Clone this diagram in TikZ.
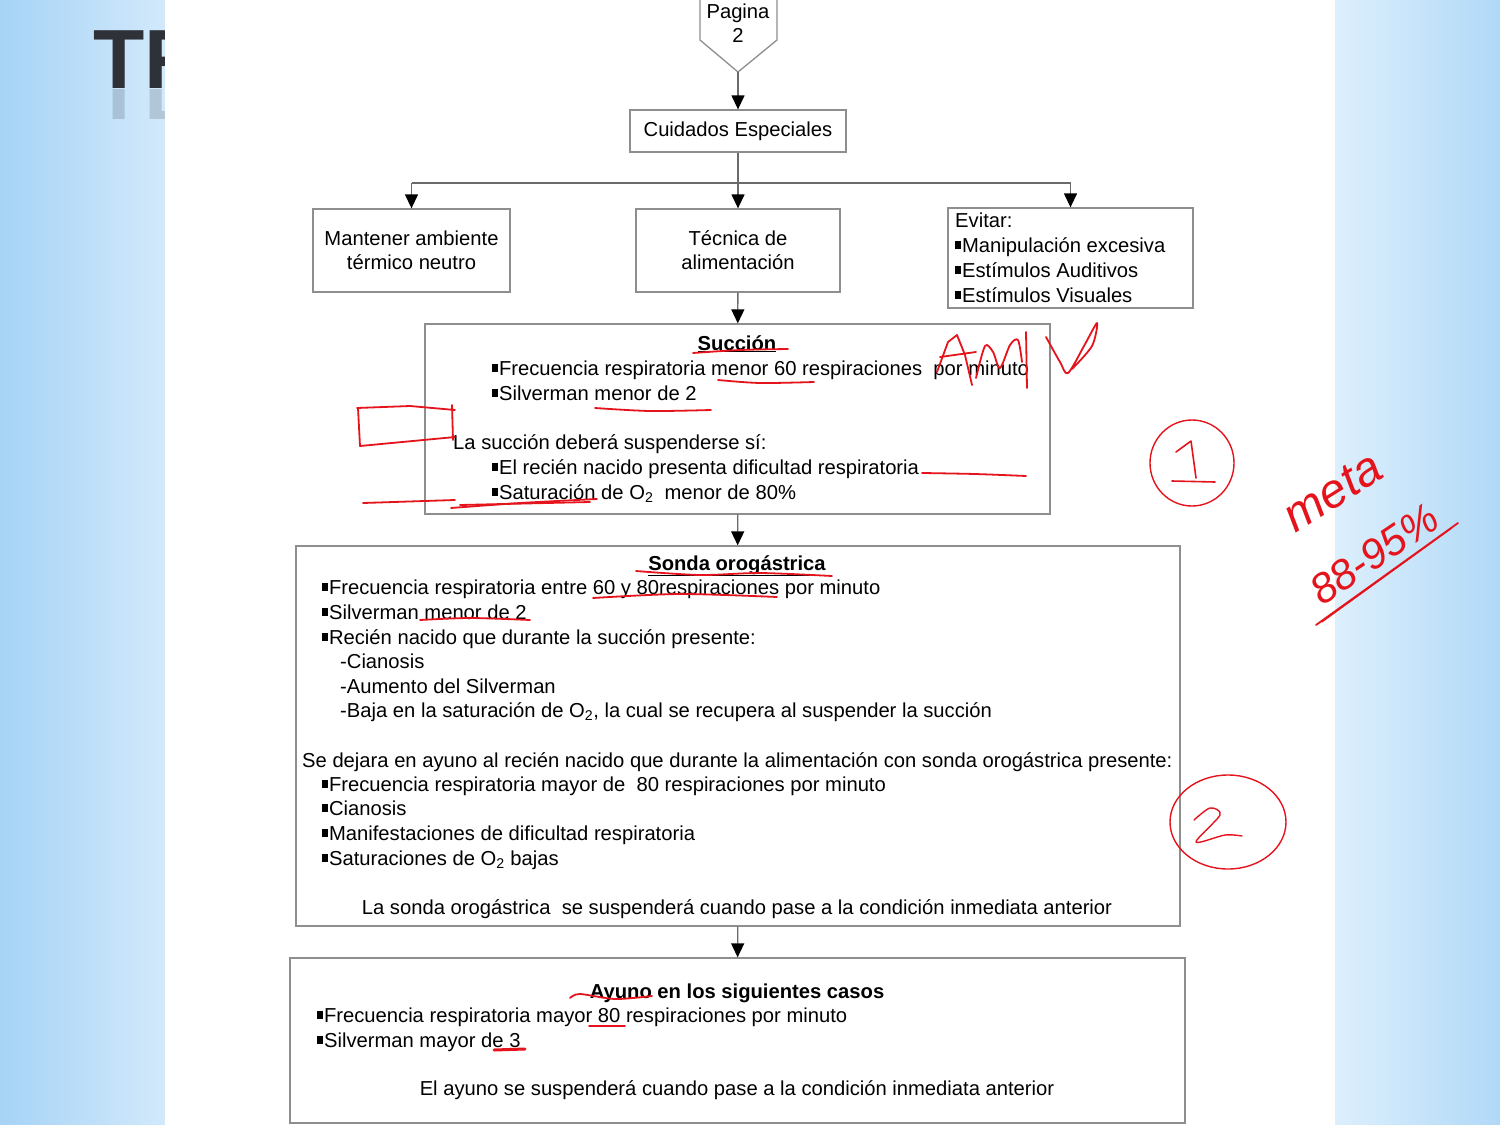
\documentclass[tikz,border=0pt]{standalone}
\usepackage{fontspec}
\setmainfont{Liberation Sans}
\usetikzlibrary{positioning,arrows.meta}

\definecolor{skyA}{HTML}{A6D3F6}
\definecolor{skyB}{HTML}{D2E9FB}
\definecolor{skyC}{HTML}{DDEFFC}
\definecolor{skyD}{HTML}{B0D9F7}
\definecolor{boxgray}{HTML}{8E8E8E}
\definecolor{linegray}{HTML}{6A6A6A}
\definecolor{inkred}{HTML}{E5141C}
\definecolor{titledark}{HTML}{2E3138}

\newcommand{\sq}{\rule[0.17em]{0.28em}{0.36em}\hspace{0.06em}}
\newcommand{\bodyfont}{\fontsize{20.2}{24}\selectfont}

\tikzset{
  box/.style={draw=boxgray, line width=1.3pt, fill=white, inner sep=0pt, font=\bodyfont, align=center},
  txt/.style={anchor=base west, inner sep=0pt, font=\bodyfont},
  ctxt/.style={txt, anchor=base},
  conn/.style={draw=linegray, line width=1.3pt},
  arr/.style={conn, -{Triangle[width=13pt,length=14pt,color=black]}},
  hand/.style={draw=inkred, line width=1.8pt, line cap=round, line join=round},
  title/.style={anchor=base west, inner sep=0pt, text=titledark, font=\fontsize{84}{84}\selectfont\bfseries},
}

\begin{document}
\begin{tikzpicture}[x=1pt, y=-1pt]
  \useasboundingbox (0,0) rectangle (1500,1125);
  % slide background
  \fill[left color=skyA, right color=skyB] (0,0) rectangle (165,1125);
  \fill[left color=skyC, right color=skyD] (1335,0) rectangle (1500,1125);
  \node[title] (ttl) at (93,88) {TR};
  \begin{scope}
    \clip (80,89) rectangle (165,118);
    \node[title, yscale=-1, opacity=0.18] (ttlr) at (93,89) {TR};
  \end{scope}
  \fill[white] (165,0) rectangle (1335,1125);

  % off-page connector
  \draw[conn, draw=boxgray] (700,-5) -- (700,40) -- (738,72) -- (777,40) -- (777,-5);
  \coordinate (pag) at (738,72);
  \node[ctxt] (pag1) at (738,18) {Pagina};
  \node[ctxt] (pag2) at (738,42) {2};

  % boxes
  \node[box, minimum width=216pt, minimum height=42pt] (cuid) at (738,131) {Cuidados Especiales};
  \node[box, minimum width=197pt, minimum height=83pt] (termo) at (411.5,250.5) {Mantener ambiente\\térmico neutro};
  \node[box, minimum width=204pt, minimum height=83pt] (tecn) at (738,250.5) {Técnica de\\alimentación};
  \node[box, minimum width=245pt, minimum height=100pt] (evit) at (1070.5,258) {};
  \node[box, minimum width=625pt, minimum height=190pt] (succ) at (737.5,419) {};
  \node[box, minimum width=884pt, minimum height=380pt] (sonda) at (738,736) {};
  \node[box, minimum width=895pt, minimum height=165pt] (ayuno) at (737.5,1040.5) {};

  % connectors
  \coordinate (br) at (738,183);
  \draw[arr] (pag) -- (cuid);
  \draw[conn] (cuid.south) -- (br);
  \draw[conn] (termo.north |- br) -- (evit.north |- br);
  \foreach \n in {termo, tecn, evit}
    \draw[arr] (\n.north |- br) -- (\n.north);
  \draw[arr] (tecn) -- (succ);
  \draw[arr] (succ) -- (sonda);
  \draw[arr] (sonda) -- (ayuno);

  % Evitar
  \node[txt] (ev0) at (955,227) {Evitar:};
  \node[txt] (ev1) at (955,252) {\sq Manipulación excesiva};
  \node[txt] (ev2) at (955,277) {\sq Estímulos Auditivos};
  \node[txt] (ev3) at (955,302) {\sq Estímulos Visuales};

  % Succion
  \node[ctxt] (su0) at (737,350) {\bfseries\underline{Succión}};
  \node[txt] (su1) at (492,375) {\sq Frecuencia respiratoria menor 60 respiraciones\ \ por minuto};
  \node[txt] (su2) at (492,400) {\sq Silverman menor de 2};
  \node[txt] (su3) at (453,449) {La succión deberá suspenderse sí:};
  \node[txt] (su4) at (492,474) {\sq El recién nacido presenta dificultad respiratoria};
  \node[txt] (su5) at (492,499) {\sq Saturación de O\textsubscript{2}\ \ menor de 80\%};

  % Sonda orogastrica
  \node[ctxt] (so0) at (737,570) {\bfseries\underline{Sonda orogástrica}};
  \node[txt] (so1) at (322,594) {\sq Frecuencia respiratoria entre 60 y 80respiraciones por minuto};
  \node[txt] (so2) at (322,619) {\sq Silverman menor de 2};
  \node[txt] (so3) at (322,644) {\sq Recién nacido que durante la succión presente:};
  \node[txt] (so4) at (340,668) {-Cianosis};
  \node[txt] (so5) at (340,693) {-Aumento del Silverman};
  \node[txt] (so6) at (340,717) {-Baja en la saturación de O\textsubscript{2}, la cual se recupera al suspender la succión};
  \node[txt] (so7) at (302,767) {Se dejara en ayuno al recién nacido que durante la alimentación con sonda orogástrica presente:};
  \node[txt] (so8) at (322,791) {\sq Frecuencia respiratoria mayor de\ \ 80 respiraciones por minuto};
  \node[txt] (so9) at (322,815) {\sq Cianosis};
  \node[txt] (so10) at (322,840) {\sq Manifestaciones de dificultad respiratoria};
  \node[txt] (so11) at (322,865) {\sq Saturaciones de O\textsubscript{2} bajas};
  \node[ctxt] (so12) at (737,914) {La sonda orogástrica\ \ se suspenderá cuando pase a la condición inmediata anterior};

  % Ayuno
  \node[ctxt] (ay0) at (737,998) {\bfseries Ayuno en los siguientes casos};
  \node[txt] (ay1) at (317,1022) {\sq Frecuencia respiratoria mayor 80 respiraciones por minuto};
  \node[txt] (ay2) at (317,1047) {\sq Silverman mayor de 3};
  \node[ctxt] (ay3) at (737,1095) {El ayuno se suspenderá cuando pase a la condición inmediata anterior};

  % handwritten marks
  \draw[hand] plot[smooth] coordinates {(693,353) (740,350) (788,349)};
  \draw[hand] plot[smooth] coordinates {(718,380) (760,383) (814,382)};
  \draw[hand] plot[smooth] coordinates {(595,408) (650,411) (711,410)};
  \draw[hand] plot[smooth] coordinates {(922,473) (975,474) (1026,476)};
  \draw[hand] (357,408) -- (410,406) -- (455,410);
  \draw[hand] (452,405) -- (453,440);
  \draw[hand] (358,408) -- (360,446) -- (455,437);
  \draw[hand] (363,503) -- (455,500);
  \draw[hand] plot[smooth] coordinates {(451,508) (520,503) (597,499)};
  \draw[hand] (460,505) -- (590,502);
  \draw[hand] plot[smooth] coordinates {(636,571) (700,575) (760,573) (832,576)};
  \draw[hand] plot[smooth] coordinates {(593,598) (680,594) (777,597)};
  \draw[hand] plot[smooth] coordinates {(420,620) (470,618) (530,620)};
  \draw[hand] plot[smooth] coordinates {(570,998) (580,994) (615,999) (652,996)};
  \draw[hand] (589,1026) -- (625,1026);
  \draw[hand, line width=3pt] (494,1050) -- (525,1049);
  % AMV
  \draw[hand] (937,372) -- (948,342) -- (957,335) -- (965,355) -- (972,385);
  \draw[hand] (940,357) -- (976,352);
  \draw[hand] plot[smooth] coordinates {(976,378) (985,346) (993,352) (1000,368) (1010,345) (1018,340) (1022,362)};
  \draw[hand] (1026,332) -- (1027,388);
  \draw[hand] plot[smooth] coordinates {(1046,337) (1060,362) (1068,373) (1084,346) (1097,323) (1092,346) (1072,369)};
  % circled numbers
  \draw[hand, line width=1.4pt] (1192,463) ellipse[x radius=42, y radius=43];
  \draw[hand, line width=1.6pt] (1176,452) -- (1191,441) -- (1196,478);
  \draw[hand, line width=1.6pt] (1172,481) -- (1215,482);
  \draw[hand, line width=1.4pt] (1228,822) ellipse[x radius=58, y radius=47];
  \draw[hand, line width=1.4pt] plot[smooth] coordinates {(1194,820) (1210,808) (1220,815) (1196,842) (1225,835) (1242,836)};
  % meta
  \node[inkred, rotate=32, font=\fontsize{48}{48}\selectfont\itshape] (meta) at (1333,492) {meta};
  \node[inkred, rotate=34, font=\fontsize{42}{42}\selectfont\itshape] (pct) at (1374,554) {88-95\%};
  \draw[hand] (1316,625) -- (1458,523);
  \draw[hand, line width=1pt] (1322,622) -- (1452,528);
\end{tikzpicture}
\end{document}
